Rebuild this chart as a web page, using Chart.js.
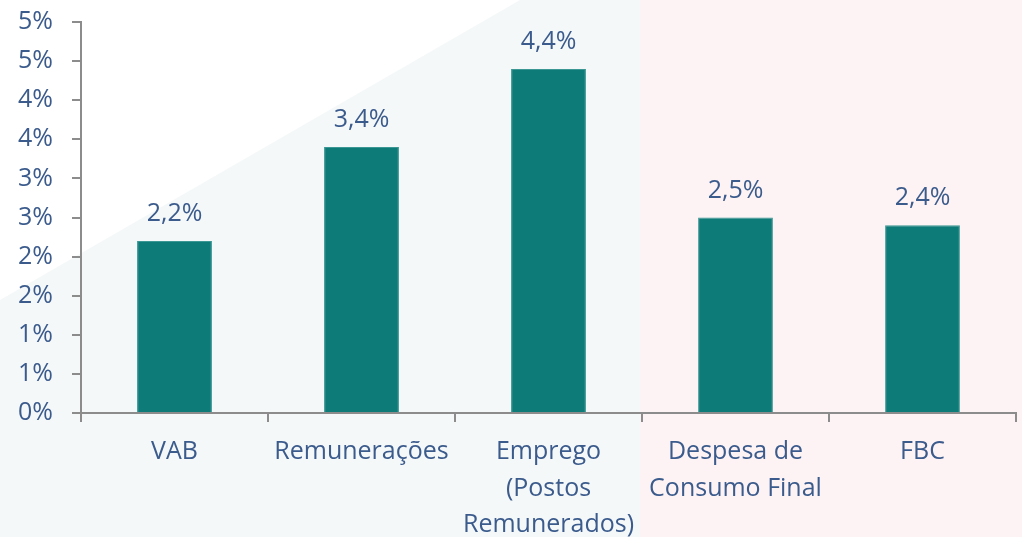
<!DOCTYPE html>
<html>
<head>
<meta charset="utf-8">
<script src="https://cdn.jsdelivr.net/npm/chart.js@4"></script>
<style>
  html, body { margin: 0; padding: 0; background: #ffffff; }
  #wrap { width: 1022px; height: 537px; position: relative; }
</style>
</head>
<body>
<div id="wrap"><canvas id="growthChart" width="1022" height="537"></canvas></div>
<script>
const categories = ['VAB', 'Remunerações', ['Emprego', '(Postos', 'Remunerados)'], ['Despesa de', 'Consumo Final'], 'FBC'];
const growth = [2.2, 3.4, 4.4, 2.5, 2.4];
const yMin = 0;
const yMax = 5;
const yStep = 0.5;

const textColor = '#3b5b8c';
const axisColor = '#8c8c8c';
const barColor = '#0d7b78';
const fontFamily = '"Open Sans", sans-serif';

// faint watermark behind the plot
const backdrop = {
  id: 'backdrop',
  beforeDraw(chart) {
    const c = chart.ctx;
    c.save();
    c.fillStyle = '#ffffff';
    c.fillRect(0, 0, chart.width, chart.height);
    c.fillStyle = '#f5f8f9';
    c.beginPath();
    c.moveTo(0, 537); c.lineTo(0, 300); c.lineTo(520, 0); c.lineTo(640, 0); c.lineTo(640, 537);
    c.closePath();
    c.fill();
    c.fillStyle = '#fdf3f4';
    c.fillRect(640, 0, chart.width - 640, chart.height);
    c.restore();
  }
};

const valueLabels = {
  id: 'valueLabels',
  afterDatasetsDraw(chart) {
    const c = chart.ctx;
    const meta = chart.getDatasetMeta(0);
    c.save();
    c.fillStyle = textColor;
    c.font = '25px ' + fontFamily;
    c.textAlign = 'center';
    c.textBaseline = 'alphabetic';
    meta.data.forEach((bar, i) => {
      const txt = growth[i].toFixed(1).replace('.', ',') + '%';
      c.fillText(txt, bar.x, bar.y - 20);
    });
    c.restore();
  }
};

new Chart(document.getElementById('growthChart').getContext('2d'), {
  type: 'bar',
  data: {
    labels: categories,
    datasets: [{
      data: growth,
      backgroundColor: barColor,
      borderColor: '#3a9794',
      borderWidth: 1,
      barPercentage: 0.4,
      categoryPercentage: 1.0
    }]
  },
  options: {
    responsive: false,
    animation: false,
    layout: { padding: { top: 22, right: 6, left: 0, bottom: 0 } },
    plugins: {
      legend: { display: false },
      tooltip: { enabled: false }
    },
    scales: {
      x: {
        offset: true,
        grid: {
          offset: true,
          drawOnChartArea: false,
          drawTicks: true,
          tickLength: 9,
          color: axisColor,
          lineWidth: 2
        },
        border: { color: axisColor, width: 2 },
        ticks: {
          color: textColor,
          font: { family: fontFamily, size: 25, lineHeight: 1.45 },
          padding: 12,
          maxRotation: 0,
          autoSkip: false
        },
        afterFit(scale) { scale.height = 124; }
      },
      y: {
        min: yMin,
        max: yMax,
        grid: {
          drawOnChartArea: false,
          drawTicks: true,
          tickLength: 9,
          color: axisColor,
          lineWidth: 2
        },
        border: { color: axisColor, width: 2 },
        ticks: {
          stepSize: yStep,
          color: textColor,
          font: { family: fontFamily, size: 25 },
          padding: 19,
          callback: v => Math.round(v) + '%'
        },
        afterFit(scale) {
          scale.width = 81;
          scale.paddingTop = 0;
          scale.paddingBottom = 0;
        }
      }
    }
  },
  plugins: [backdrop, valueLabels]
});
</script>
</body>
</html>
